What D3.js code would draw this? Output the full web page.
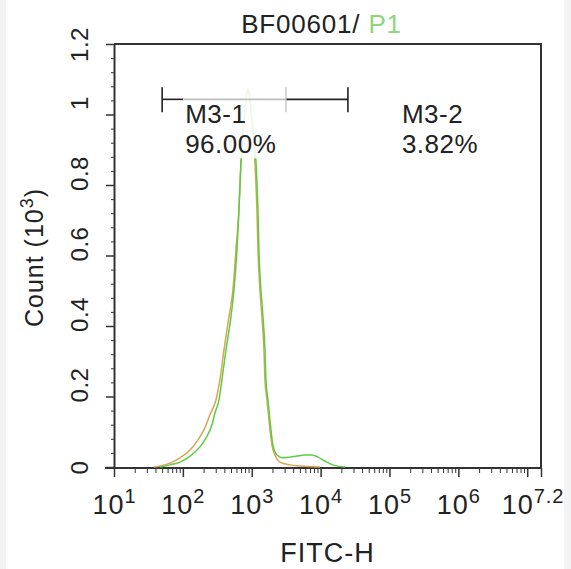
<!DOCTYPE html>
<html>
<head>
<meta charset="utf-8">
<script src="https://cdn.jsdelivr.net/npm/d3@7"></script>
<style>
  body { margin: 0; background: #fff; }
  svg { display: block; font-family: "Liberation Sans", Arial, sans-serif; }
</style>
</head>
<body>
<svg id="chart" width="571" height="569"></svg>
<script>
// histogram: FITC-H values and counts (x10^3)
var greenFitc = [47, 65, 91, 127, 177, 216, 264, 292, 334, 369, 422, 499, 552, 610, 652, 697, 771, 881,
    1007, 1151, 1231, 1271, 1360, 1455, 1556, 1608, 1719, 1837, 2031, 2323, 2837, 3584, 4528, 5919,
    7477, 9140, 11537, 15076, 22520];
var greenCount = [0, 0.006, 0.014, 0.031, 0.057, 0.082, 0.119, 0.153, 0.190, 0.247, 0.332, 0.426, 0.502,
    0.616, 0.729, 0.865, 0.984, 1.070, 0.984, 0.865, 0.729, 0.616, 0.502, 0.426, 0.332, 0.247, 0.190,
    0.133, 0.062, 0.034, 0.026, 0.028, 0.031, 0.034, 0.034, 0.028, 0.017, 0.006, 0];

var orangeFitc = [38, 47, 65, 91, 127, 166, 209, 247, 302, 345, 395, 467, 533, 590, 652, 697, 771, 881,
    1007, 1112, 1189, 1231, 1315, 1406, 1503, 1556, 1662, 1778, 1965, 2172, 2566, 3584, 5008, 9772];
var orangeCount = [0, 0.003, 0.011, 0.026, 0.048, 0.077, 0.111, 0.148, 0.190, 0.247, 0.332, 0.426, 0.502,
    0.616, 0.729, 0.865, 0.984, 1.075, 0.984, 0.865, 0.729, 0.616, 0.502, 0.426, 0.332, 0.247, 0.190,
    0.133, 0.062, 0.034, 0.014, 0.006, 0.003, 0];

// axis ticks
var xTickExps = [1, 2, 3, 4, 5, 6, 7, 7.2];
var xTickLabels = ["1", "2", "3", "4", "5", "6", "", "7.2"];
var yTicks = [0, 0.2, 0.4, 0.6, 0.8, 1, 1.2];
var yTickLabels = ["0", "0.2", "0.4", "0.6", "0.8", "1", "1.2"];

// gate M3: left edge, split, right edge (FITC-H)
var gateEdges = [50, 3140, 24900];
var gateLevel = 1.043;
var gateNames = ["M3-1", "M3-2"];
var gatePercents = ["96.00%", "3.82%"];

function draw() {
    var width = 571;
    var pLeft = 114, pTop = 44, pRight = 541, pBottom = 467;
    var axisColor = "#333";
    var font = "Liberation Sans, Arial, sans-serif";

    var svg = d3.select("#chart");

    // light edges of the screenshot
    svg.append("rect").attr("x", 0).attr("y", 0).attr("width", 6).attr("height", 569).style("fill", "#f3f3f3");
    svg.append("rect").attr("x", 564).attr("y", 0).attr("width", 7).attr("height", 569).style("fill", "#f3f3f3");

    var x = d3.scaleLog()
        .domain([Math.pow(10, 1), Math.pow(10, 7.2)])
        .range([pLeft, pRight]);
    var y = d3.scaleLinear()
        .domain([0, 1.2])
        .range([pBottom, pTop]);

    // frame (top and right)
    svg.append("path")
        .attr("d", "M" + pLeft + "," + pTop + "H" + pRight + "V" + (pBottom + 1))
        .style("fill", "none")
        .style("stroke", axisColor)
        .style("stroke-width", 2);

    // y axis, minor then major ticks
    var yMinor = [];
    for (var i = 1; i <= 30; i++) {
        if (i % 5 !== 0) yMinor.push(i * 0.04);
    }
    svg.append("g")
        .attr("transform", "translate(" + pLeft + ",0)")
        .call(d3.axisLeft(y).tickValues(yMinor).tickSize(3).tickSizeOuter(0).tickFormat(function () { return ""; }))
        .call(function (g) { g.select(".domain").remove(); })
        .selectAll("line").style("stroke", axisColor);

    var yAxis = svg.append("g")
        .attr("transform", "translate(" + pLeft + ",0)")
        .call(d3.axisLeft(y).tickValues(yTicks).tickSize(8).tickSizeOuter(0)
            .tickFormat(function (d, i) { return yTickLabels[i]; }));
    yAxis.select(".domain").style("stroke", axisColor).style("stroke-width", 2);
    yAxis.selectAll("line").style("stroke", axisColor).style("stroke-width", 1.5);
    // inner labels sit a little above their tick, end labels stay centred
    yAxis.selectAll("text")
        .attr("transform", "rotate(-90)")
        .attr("x", function (d, i) { return (i === 0 || i === yTicks.length - 1) ? 0 : 12; })
        .attr("y", -26)
        .attr("dy", 0)
        .style("text-anchor", "middle")
        .style("font-size", "24px")
        .style("letter-spacing", "0.5px")
        .style("font-family", font)
        .style("fill", "#222");

    // x axis, minor log ticks then majors with 10^n labels
    var xMinor = [];
    for (var e = 1; e <= 6; e++) {
        for (var k = 2; k <= 9; k++) xMinor.push(k * Math.pow(10, e));
    }
    svg.append("g")
        .attr("transform", "translate(0," + (pBottom + 1) + ")")
        .call(d3.axisBottom(x).tickValues(xMinor).tickSize(5).tickSizeOuter(0).tickFormat(function () { return ""; }))
        .call(function (g) { g.select(".domain").remove(); })
        .selectAll("line").style("stroke", axisColor);

    var xAxis = svg.append("g")
        .attr("transform", "translate(0," + (pBottom + 1) + ")")
        .call(d3.axisBottom(x)
            .tickValues(xTickExps.map(function (p) { return Math.pow(10, p); }))
            .tickSize(9).tickSizeOuter(0)
            .tickFormat(function () { return ""; }));
    xAxis.select(".domain")
        .attr("d", "M" + (pLeft - 9) + ",0H" + pRight)
        .style("stroke", axisColor).style("stroke-width", 2);
    xAxis.selectAll("line").style("stroke", axisColor).style("stroke-width", 1.5);
    xAxis.selectAll(".tick text").each(function (d, i) {
        var t = d3.select(this)
            .attr("y", 46)
            .attr("dy", 0)
            .style("text-anchor", "middle")
            .style("font-family", font)
            .style("letter-spacing", "1px")
            .style("fill", "#222");
        if (xTickLabels[i] === "") return;
        t.append("tspan").style("font-size", "27px").text("10");
        t.append("tspan").attr("dy", -11).style("font-size", "20px").text(xTickLabels[i]);
        // keep the last label inside the picture
        var box = this.getBBox();
        var over = x(d) + box.x + box.width - (width - 7);
        if (over > 0) t.attr("x", -over);
    });

    // histogram lines
    var line = d3.line()
        .x(function (d) { return x(d.fitc); })
        .y(function (d) { return y(d.count); })
        .curve(d3.curveMonotoneX);

    function zipSeries(fitc, count) {
        return fitc.map(function (v, i) { return { fitc: v, count: count[i] }; });
    }

    svg.append("path")
        .datum(zipSeries(orangeFitc, orangeCount))
        .attr("d", line)
        .style("fill", "none")
        .style("stroke", "#d9a551")
        .style("stroke-width", 1.5);

    svg.append("path")
        .datum(zipSeries(greenFitc, greenCount))
        .attr("d", line)
        .style("fill", "none")
        .style("stroke", "#5dcc45")
        .style("stroke-width", 1.5);

    // gate marker; the part under the label box is drawn grey
    var gy = y(gateLevel);
    var gx = gateEdges.map(function (v) { return x(v); });
    var boxLeft = gx[0] + 21;

    svg.append("rect")
        .attr("x", boxLeft).attr("y", gy - 15)
        .attr("width", gx[1] - boxLeft + 2).attr("height", 74)
        .style("fill", "#fff").style("opacity", 0.88);

    var gate = svg.append("g").style("stroke-width", 1.6);
    gate.append("line").attr("x1", gx[0]).attr("x2", boxLeft).attr("y1", gy).attr("y2", gy).style("stroke", "#222");
    gate.append("line").attr("x1", boxLeft).attr("x2", gx[1]).attr("y1", gy).attr("y2", gy).style("stroke", "#bdbdbd");
    gate.append("line").attr("x1", gx[1]).attr("x2", gx[2]).attr("y1", gy).attr("y2", gy).style("stroke", "#222");
    gx.forEach(function (v, i) {
        gate.append("line")
            .attr("x1", v).attr("x2", v).attr("y1", gy - 12).attr("y2", gy + 13)
            .style("stroke", i === 1 ? "#bdbdbd" : "#222")
            .style("stroke-width", i === 1 ? 1.2 : 1.6);
    });

    var labelX = [gx[0] + 23, gx[2] + 54];
    labelX.forEach(function (lx, i) {
        svg.append("text")
            .attr("x", lx).attr("y", gy + 24)
            .style("font-size", "26px").style("letter-spacing", "0.5px").style("fill", "#222")
            .text(gateNames[i]);
        svg.append("text")
            .attr("x", lx).attr("y", gy + 54)
            .style("font-size", "26px").style("letter-spacing", "0.5px").style("fill", "#222")
            .text(gatePercents[i]);
    });

    // title and axis titles
    var title = svg.append("text")
        .attr("x", (pLeft + pRight) / 2 - 6).attr("y", 33)
        .style("text-anchor", "middle")
        .style("font-size", "26px")
        .style("letter-spacing", "0.8px");
    title.append("tspan").style("fill", "#222").text("BF00601/ ");
    title.append("tspan").style("fill", "#8fd67c").text("P1");

    svg.append("text")
        .attr("x", (pLeft + pRight) / 2).attr("y", 562)
        .style("text-anchor", "middle")
        .style("font-size", "27px")
        .style("letter-spacing", "1px")
        .style("fill", "#222")
        .text("FITC-H");

    var yTitle = svg.append("text")
        .attr("transform", "translate(43," + ((pTop + pBottom) / 2 + 2) + ") rotate(-90)")
        .style("text-anchor", "middle")
        .style("font-size", "25px")
        .style("letter-spacing", "1px")
        .style("fill", "#222");
    yTitle.append("tspan").text("Count (10");
    yTitle.append("tspan").attr("dy", -10).style("font-size", "18px").text("3");
    yTitle.append("tspan").attr("dy", 10).text(")");
}

draw();
</script>
</body>
</html>
